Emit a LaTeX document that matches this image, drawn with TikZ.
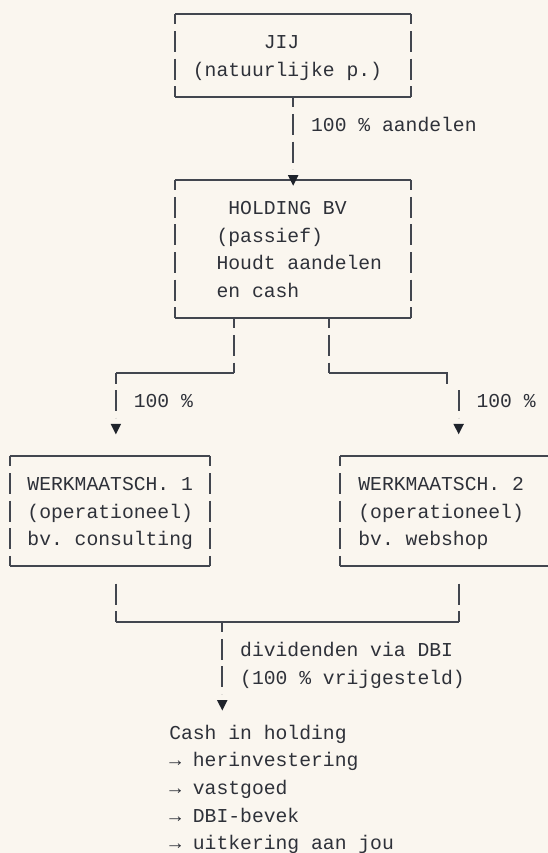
\documentclass[tikz,border=0pt]{standalone}
\usepackage{fontspec}
\setmonofont{Liberation Mono}
\definecolor{paper}{HTML}{FAF6EF}
\definecolor{ink}{HTML}{2E3139}
\definecolor{rule}{HTML}{42464F}
\definecolor{tipfill}{HTML}{1F232B}
\tikzset{
  rulepen/.style={draw=rule, line width=2pt},
  vseg/.style={rulepen, dash pattern=on 21pt off 6.62pt},
  vbar/.style={vseg, dash phase=10.5pt},
  txt/.style={anchor=base west, inner sep=0pt, yshift=-7.2pt, text=ink},
  cells/.style 2 args={minimum width=#1*11.82pt, minimum height=#2*27.62pt, inner sep=0pt, outer sep=0pt},
  downtip/.pic={\fill[tipfill] (-5.3pt,4.5pt) -- (5.3pt,4.5pt) -- (0pt,-6pt) -- cycle;}
}
\newcommand\asciiframe[1]{%
  \draw[rulepen] (#1.north west) -- (#1.north east) (#1.south west) -- (#1.south east);
  \draw[vbar] (#1.north west) -- (#1.south west) (#1.north east) -- (#1.south east);}
\begin{document}
\begin{tikzpicture}[x=11.82pt, y=-27.62pt, shift={(9.51pt,-14pt)}, font=\ttfamily\fontsize{19.7pt}{27.62pt}\selectfont]
\useasboundingbox[fill=paper] (-9.51pt,14pt) rectangle (538.49pt,-839pt);
\clip (-9.51pt,14pt) rectangle (538.49pt,-839pt);
\node[cells={20}{3}] (jij) at (24,1.5) {};
\node[cells={20}{5}] (holding) at (24,8.5) {};
\node[cells={17}{4}] (werk1) at (8.5,18) {};
\node[cells={18}{4}] (werk2) at (37,18) {};
\foreach \b in {jij,holding,werk1,werk2} \asciiframe{\b};
\node[txt] (jijname) at (21.5,1) {JIJ};
\node[txt] (jijsub) at (15.5,2) {(natuurlijke p.)};
\node[txt] (holdname) at (18.5,7) {HOLDING BV};
\foreach \t [count=\i] in {{(passief)},{Houdt aandelen},{en cash}}
  \node[txt] (holdline\i) at (17.5,7+\i) {\t};
\foreach \t [count=\i] in {{WERKMAATSCH. 1},{(operationeel)},{bv. consulting}}
  \node[txt] (wone\i) at (1.5,16+\i) {\t};
\foreach \t [count=\i] in {{WERKMAATSCH. 2},{(operationeel)},{bv. webshop}}
  \node[txt] (wtwo\i) at (29.5,16+\i) {\t};
\draw[vbar, shorten >=10.5pt] (jij.south) -- (holding.north);
\pic at (holding.north) {downtip};
\node[txt] (share) at (25.5,4) {100 \% aandelen};
\coordinate (outL) at (19,11);
\coordinate (outR) at (27,11);
\coordinate (tipL) at (9,15);
\coordinate (tipR) at (38,15);
\draw[vbar] (outL) -- (19,13);
\draw[rulepen] (19,13) -- (9,13);
\draw[vbar, shorten >=10.5pt] (9,13) -- (tipL);
\draw[vbar] (outR) -- (27,13);
\draw[rulepen] (27,13) -- (37,13) -- ++(0,-10.5pt);
\draw[vseg, shorten >=10.5pt] ([yshift=10.5pt]38,14) -- (tipR);
\pic at (tipL) {downtip};
\pic at (tipR) {downtip};
\node[txt] (shareL) at (10.5,14) {100 \%};
\node[txt] (shareR) at (39.5,14) {100 \%};
\coordinate (tipC) at (18,25);
\draw[vseg] ([yshift=10.5pt]9,21) -- (9,22);
\draw[vseg] ([yshift=10.5pt]38,21) -- (38,22);
\draw[rulepen] (9,22) -- (38,22);
\draw[vbar, shorten >=10.5pt] (18,22) -- (tipC);
\pic at (tipC) {downtip};
\node[txt] (dbi) at (19.5,23) {dividenden via DBI};
\node[txt] (exempt) at (19.5,24) {(100 \% vrijgesteld)};
\foreach \t [count=\i] in {{Cash in holding},{→ herinvestering},{→ vastgoed},{→ DBI-bevek},{→ uitkering aan jou}}
  \node[txt] (cash\i) at (13.5,25+\i) {\t};
\end{tikzpicture}
\end{document}
